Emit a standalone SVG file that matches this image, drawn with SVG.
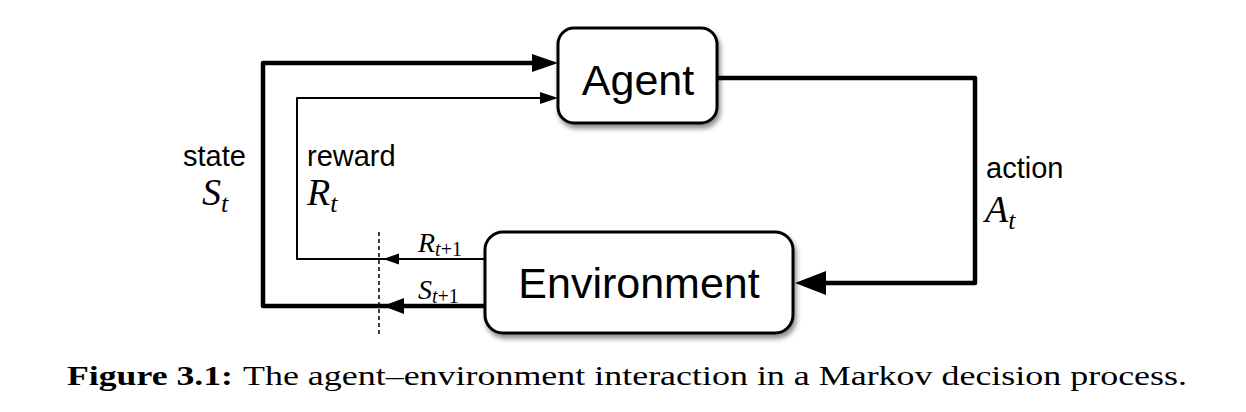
<svg xmlns="http://www.w3.org/2000/svg" width="1246" height="412" viewBox="0 0 1246 412">
<style>
.box{fill:#fff;stroke:#000;stroke-width:3}
.lbl{font-family:"Liberation Sans",Arial,sans-serif;font-size:43px;fill:#000}
.sm{font-family:"Liberation Sans",Arial,sans-serif;font-size:29px;fill:#000}
.math{font-family:"Times New Roman","Liberation Serif",Tinos,Times,serif;font-style:italic;fill:#000}
.thick{fill:none;stroke:#000;stroke-width:4.5;stroke-linejoin:round}
.thin{fill:none;stroke:#000;stroke-width:2;stroke-linejoin:round}
.cap{font-family:"Times New Roman","Liberation Serif",Tinos,Times,serif;font-size:28px;fill:#000}
</style>
<defs>
<filter id="sh" x="-10%" y="-10%" width="130%" height="140%">
<feDropShadow dx="2" dy="4" stdDeviation="2.5" flood-color="#000" flood-opacity="0.45"/>
</filter>
</defs>
<rect width="1246" height="412" fill="#fff"/>
<g id="connectors">
<path class="thick" d="M488 306 H263 V63 H534"/>
<polygon points="558,63 532,54 532,72"/>
<path class="thin" d="M488 259 H297 V98 H542"/>
<polygon points="558,98 540,92 540,104"/>
<path class="thick" d="M717 78 H975 V283 H823"/>
<polygon points="795,283 826,271 826,295"/>
<polygon points="383,259 399,253.5 399,264.5"/>
<polygon points="383,306 404,298 404,314"/>
<line x1="379" y1="232" x2="379" y2="336" stroke="#000" stroke-width="1.5" stroke-dasharray="4 3"/>
</g>
<g id="agent">
<rect class="box" x="558" y="28" width="159" height="95" rx="16" filter="url(#sh)"/>
<text class="lbl" x="638" y="95" text-anchor="middle">Agent</text>
</g>
<g id="environment">
<rect class="box" x="485" y="232" width="308" height="101" rx="18" filter="url(#sh)"/>
<text class="lbl" x="639" y="298" text-anchor="middle">Environment</text>
</g>
<g id="labels">
<text class="sm" x="183" y="166">state</text>
<text class="math" x="202" y="205" font-size="38">S<tspan font-size="26" dy="7">t</tspan></text>
<text class="sm" x="307" y="166">reward</text>
<text class="math" x="307" y="205" font-size="38">R<tspan font-size="26" dy="7">t</tspan></text>
<text class="sm" x="986" y="178">action</text>
<text class="math" x="985" y="222" font-size="38">A<tspan font-size="26" dy="7">t</tspan></text>
<text class="math" x="418" y="252" font-size="28">R<tspan font-size="20" dy="4">t</tspan><tspan font-size="20" font-style="normal">+1</tspan></text>
<text class="math" x="418" y="299" font-size="28">S<tspan font-size="20" dy="4">t</tspan><tspan font-size="20" font-style="normal">+1</tspan></text>
</g>
<g id="caption">
<text class="cap" y="385"><tspan x="67" font-weight="bold" textLength="166" lengthAdjust="spacingAndGlyphs">Figure 3.1:</tspan><tspan x="243" textLength="944" lengthAdjust="spacingAndGlyphs">The agent–environment interaction in a Markov decision process.</tspan></text>
</g>
</svg>
